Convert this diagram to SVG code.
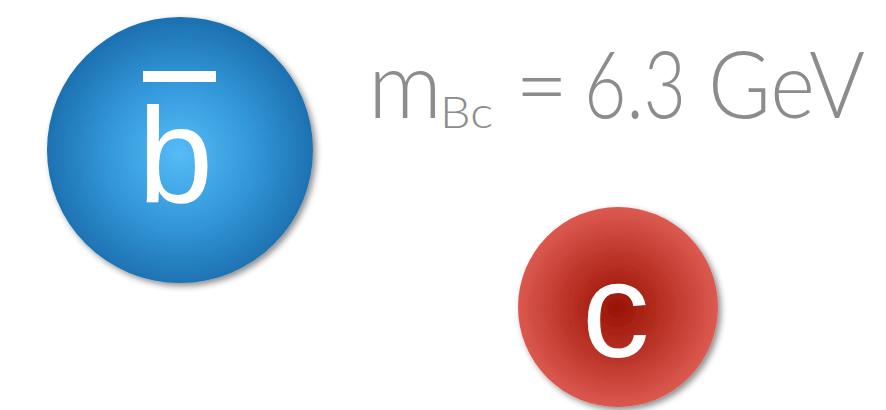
<svg xmlns="http://www.w3.org/2000/svg" width="886" height="410" viewBox="0 0 886 410">
<defs>
<radialGradient id="gb" cx="180" cy="153" r="135" gradientUnits="userSpaceOnUse">
<stop offset="0" stop-color="#55bcf7"/>
<stop offset="0.55" stop-color="#3296d8"/>
<stop offset="1" stop-color="#1d70b0"/>
</radialGradient>
<radialGradient id="gc" cx="617" cy="308" r="102" gradientUnits="userSpaceOnUse">
<stop offset="0" stop-color="#981303"/>
<stop offset="0.5" stop-color="#bb3428"/>
<stop offset="1" stop-color="#dd5b52"/>
</radialGradient>
<filter id="sh" x="-20%" y="-20%" width="140%" height="140%">
<feDropShadow dx="3" dy="3" stdDeviation="3" flood-color="#000" flood-opacity="0.45"/>
</filter>
<style>
.q{font-family:"Liberation Sans",Arial,sans-serif;font-size:135px;fill:#fff}
.lbl{font-family:Lato,"Open Sans",sans-serif;font-weight:300;fill:#8c8c8c}
</style>
</defs>
<rect width="886" height="410" fill="#fff"/>
<g id="bbar">
<circle cx="180" cy="150" r="133" fill="url(#gb)" filter="url(#sh)"/>
<rect x="143" y="71" width="73" height="11" fill="#fff"/>
<text class="q" x="138" y="202">b</text>
</g>
<g id="charm">
<circle cx="618" cy="307" r="100" fill="url(#gc)" filter="url(#sh)"/>
<text class="q" x="582" y="357">c</text>
</g>
<g id="mass">
<text class="lbl" x="368" y="118" font-size="92">m</text>
<text class="lbl" x="440" y="128" font-size="44" textLength="53" lengthAdjust="spacingAndGlyphs">Bc</text>
<text class="lbl" x="515" y="118" font-size="92">=</text>
<text class="lbl" x="584" y="118" font-size="92" textLength="102" lengthAdjust="spacingAndGlyphs">6.3</text>
<text class="lbl" x="708" y="118" font-size="92" textLength="157" lengthAdjust="spacingAndGlyphs">GeV</text>
</g>
</svg>
